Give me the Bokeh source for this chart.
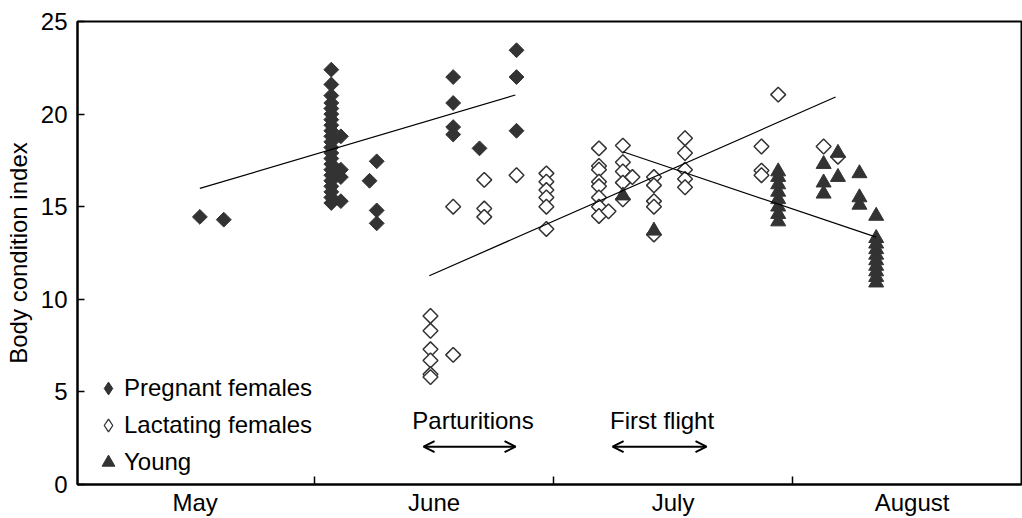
import numpy as np
from bokeh.plotting import figure
from bokeh.models import (ColumnDataSource, Range1d, FixedTicker, Legend, LegendItem,
                          Arrow, OpenHead)
from bokeh.core.properties import value
from bokeh.embed import file_html
from bokeh.resources import INLINE

# ---- data (x = position within season, 1 unit = 1 month; May starts at 0) ----
months = ["May", "June", "July", "August"]
month_centers = [0.5, 1.5, 2.5, 3.5]
month_bounds = [1, 2, 3]
y_ticks = [0, 5, 10, 15, 20, 25]

preg_x = [0.52, 0.62,
          1.07, 1.07, 1.07, 1.07, 1.07, 1.07, 1.07, 1.07, 1.07, 1.07, 1.07,
          1.07, 1.07, 1.07, 1.07, 1.07, 1.07, 1.07, 1.07, 1.07, 1.07, 1.07,
          1.11, 1.11, 1.11, 1.11,
          1.23, 1.26, 1.26, 1.26,
          1.58, 1.58, 1.58, 1.58, 1.69, 1.845, 1.845, 1.845]
preg_y = [14.45, 14.3,
          22.4, 21.6, 21.0, 20.6, 20.3, 20.0, 19.7, 19.4, 19.1, 18.8, 18.5,
          18.2, 17.9, 17.6, 17.3, 17.0, 16.7, 16.4, 16.1, 15.8, 15.5, 15.2,
          18.8, 17.0, 16.6, 15.3,
          16.4, 17.45, 14.8, 14.1,
          22.0, 20.6, 19.3, 18.9, 18.15, 23.45, 22.0, 19.1]

lact_x = [1.485, 1.485, 1.485, 1.485, 1.485, 1.485, 1.58,
          1.58, 1.71, 1.71, 1.71, 1.845,
          1.97, 1.97, 1.97, 1.97, 1.97, 1.97,
          2.19, 2.19, 2.19, 2.19, 2.19, 2.19, 2.19, 2.19, 2.23,
          2.29, 2.29, 2.29, 2.29, 2.29, 2.33,
          2.42, 2.42, 2.42, 2.42, 2.42,
          2.55, 2.55, 2.55, 2.55, 2.55,
          2.94, 2.87, 2.87, 2.87, 3.13, 3.19]
lact_y = [9.1, 8.3, 7.3, 6.7, 5.95, 5.8, 7.0,
          15.0, 16.45, 14.9, 14.45, 16.7,
          16.8, 16.35, 15.9, 15.5, 15.0, 13.8,
          18.15, 17.2, 17.0, 16.35, 16.1, 15.5, 15.0, 14.5, 14.75,
          18.3, 17.4, 16.9, 16.3, 15.4, 16.6,
          16.6, 16.15, 15.3, 15.0, 13.5,
          18.7, 17.9, 17.0, 16.5, 16.05,
          21.05, 18.25, 16.95, 16.7, 18.25, 17.7]

young_x = [2.29, 2.42,
           2.94, 2.94, 2.94, 2.94, 2.94, 2.94, 2.94, 2.94,
           3.13, 3.13, 3.13, 3.19, 3.19,
           3.28, 3.28, 3.28,
           3.35, 3.35, 3.35, 3.35, 3.35, 3.35, 3.35, 3.35, 3.35, 3.35]
young_y = [15.6, 13.7,
           16.9, 16.6, 16.2, 15.8, 15.4, 15.0, 14.6, 14.2,
           17.3, 16.3, 15.7, 17.9, 16.6,
           16.8, 15.5, 15.1,
           14.5, 13.3, 13.0, 12.7, 12.4, 12.1, 11.8, 11.5, 11.2, 10.9]

# trend lines (start / end)
trend_x0 = [0.52, 1.48, 2.29]
trend_y0 = [15.99, 11.27, 17.97]
trend_x1 = [1.84, 3.18, 3.35]
trend_y1 = [21.03, 20.92, 13.36]

annot_text = ["Parturitions", "First flight"]
annot_text_x = [1.663, 2.454]
annot_text_y = [3.45, 3.45]
arrow_x0 = [1.456, 2.247]
arrow_x1 = [1.841, 2.640]
arrow_y = [2.04, 2.04]

FONT = "Liberation Sans"
FS = "24px"
DARK = "#333333"
INK = "black"

p = figure(width=1022, height=518, output_backend="svg", toolbar_location=None,
           x_range=Range1d(0.008, 3.958), y_range=Range1d(0, 25),
           min_border_left=77, min_border_right=1, min_border_top=21, min_border_bottom=31)

p.grid.visible = False
p.background_fill_color = "white"
p.border_fill_color = "white"
p.outline_line_color = INK
p.outline_line_width = 2

# y axis
ya = p.yaxis[0]
ya.ticker = FixedTicker(ticks=y_ticks)
ya.axis_label = "Body condition index"
ya.axis_label_text_font = FONT
ya.axis_label_text_font_size = FS
ya.axis_label_text_font_style = "normal"
ya.axis_label_text_color = INK
ya.axis_label_standoff = 6
ya.major_label_text_font = FONT
ya.major_label_text_font_size = FS
ya.major_label_text_color = INK
ya.major_label_standoff = 10
ya.major_tick_in = 7
ya.major_tick_out = 0
ya.minor_tick_line_color = None
ya.axis_line_width = 2
ya.axis_line_color = INK
ya.major_tick_line_color = INK
ya.major_tick_line_width = 1.5

# x axis
xa = p.xaxis[0]
xa.ticker = FixedTicker(ticks=month_centers, minor_ticks=month_bounds)
xa.major_label_overrides = {c: m for c, m in zip(month_centers, months)}
xa.major_label_text_font = FONT
xa.major_label_text_font_size = FS
xa.major_label_text_color = INK
xa.major_label_standoff = 4
xa.major_tick_line_color = None
xa.major_tick_in = 0
xa.major_tick_out = 0
xa.minor_tick_in = 8
xa.minor_tick_out = 0
xa.minor_tick_line_width = 1.5
xa.minor_tick_line_color = INK
xa.axis_line_width = 2
xa.axis_line_color = INK

# points
p.scatter(preg_x, preg_y, marker="square", angle=np.pi / 4, size=10.5,
          fill_color=DARK, line_color=DARK, line_width=1)
p.scatter(lact_x, lact_y, marker="square", angle=np.pi / 4, size=10.5,
          fill_color="white", line_color=DARK, line_width=1.5)
p.scatter(young_x, young_y, marker="triangle", size=15,
          fill_color=DARK, line_color=DARK, line_width=1)

# legend-only glyph renderers (single NaN point, nothing drawn in the plot)
lg_preg = p.scatter([np.nan], [np.nan], marker="diamond", fill_color=DARK, line_color=DARK, line_width=1)
lg_lact = p.scatter([np.nan], [np.nan], marker="diamond", fill_color="white", line_color=DARK, line_width=1.3)
lg_young = p.scatter([np.nan], [np.nan], marker="triangle", fill_color=DARK, line_color=DARK, line_width=1)

# trend lines
p.segment(x0=trend_x0, y0=trend_y0, x1=trend_x1, y1=trend_y1,
          line_color=INK, line_width=1.2)

# annotations
src_t = ColumnDataSource(dict(x=annot_text_x, y=annot_text_y, t=annot_text))
p.text(x="x", y="y", text="t", source=src_t, text_font=value(FONT), text_font_size=value(FS),
       text_align="center", text_baseline="middle", text_color=INK)

for xs, xe, yy in zip(arrow_x0, arrow_x1, arrow_y):
    p.add_layout(Arrow(start=OpenHead(size=11, line_width=2), end=OpenHead(size=11, line_width=2),
                       x_start=xs, y_start=yy, x_end=xe, y_end=yy,
                       line_width=2, line_color=INK))

legend = Legend(items=[LegendItem(label="Pregnant females", renderers=[lg_preg]),
                       LegendItem(label="Lactating females", renderers=[lg_lact]),
                       LegendItem(label="Young", renderers=[lg_young])],
                location=(15, 6), glyph_width=32, glyph_height=32, label_height=32,
                spacing=5, padding=0, margin=0, label_standoff=0,
                label_text_font=FONT, label_text_font_size=FS, label_text_color=INK,
                background_fill_alpha=0, border_line_color=None)
p.add_layout(legend)

open("out.html", "w").write(file_html(p, INLINE))
